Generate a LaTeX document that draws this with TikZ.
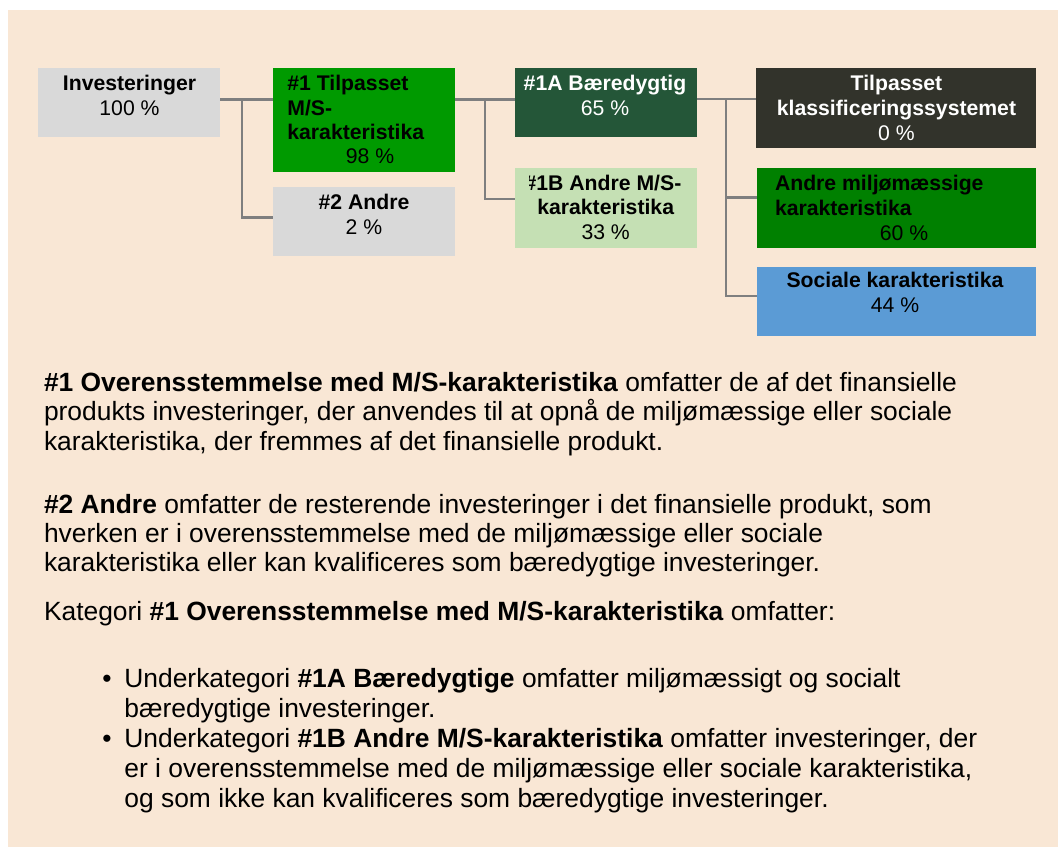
\documentclass[tikz,border=0pt]{standalone}
\usepackage{fontspec}
\setmainfont{Liberation Sans}
\definecolor{bgbeige}{HTML}{F9E7D5}
\definecolor{boxgray}{HTML}{D9D9D9}
\definecolor{greenA}{HTML}{009A00}
\definecolor{darkgreen}{HTML}{245638}
\definecolor{lightgreen}{HTML}{C5E0B4}
\definecolor{darkbox}{HTML}{32332B}
\definecolor{midgreen}{HTML}{008000}
\definecolor{socblue}{HTML}{5B9BD5}
\definecolor{linegray}{HTML}{7F7F7F}
\tikzset{
  box/.style={rectangle, inner sep=0pt, outer sep=0pt, anchor=north west},
  bt/.style={inner sep=0pt, outer sep=0pt, anchor=base, font=\fontsize{21.2}{25}\selectfont},
  btl/.style={bt, anchor=base west},
  tx/.style={inner sep=0pt, outer sep=0pt, anchor=base west, font=\fontsize{26.4}{29}\selectfont},
  bul/.style={inner sep=0pt, outer sep=0pt, anchor=base, font=\fontsize{26.4}{29}\selectfont},
  conn/.style={draw=linegray, line width=2.6pt}
}
\begin{document}
\begin{tikzpicture}[x=1pt,y=-1pt]
\useasboundingbox (0,0) rectangle (1058,847);
\fill[bgbeige] (8,10) rectangle (1058,847);

% boxes
\node[box, fill=boxgray,    minimum width=181.9pt, minimum height=68.4pt] (inv) at (38.2,68.3) {};
\node[box, fill=greenA,     minimum width=181.5pt, minimum height=103.4pt] (t1) at (273.2,68.3) {};
\node[box, fill=boxgray,    minimum width=181.5pt, minimum height=69pt]   (an) at (273.2,186.7) {};
\node[box, fill=darkgreen,  minimum width=181.8pt, minimum height=68.4pt] (a1) at (515,68.3) {};
\node[box, fill=lightgreen, minimum width=181.8pt, minimum height=79.4pt] (b1) at (515,168.3) {};
\node[box, fill=darkbox,    minimum width=280pt,   minimum height=79.4pt] (tk) at (756,68.3) {};
\node[box, fill=midgreen,   minimum width=279pt,   minimum height=79.4pt] (am) at (757,168.3) {};
\node[box, fill=socblue,    minimum width=279pt,   minimum height=68.4pt] (so) at (757,267.3) {};

% connectors
\coordinate (j1) at (242,99.3);
\coordinate (j2) at (485,99.3);
\coordinate (j3) at (726,99);
\draw[conn] (inv.east |- j1) -- (t1.west |- j1);
\draw[conn] (j1) |- (an.west |- 0,217.3);
\draw[conn] (t1.east |- j2) -- (a1.west |- j2);
\draw[conn] (j2) |- (b1.west |- 0,199);
\draw[conn] (a1.east |- j3) -- (tk.west |- j3);
\draw[conn] (j3) |- (am.west |- 0,197.3);
\draw[conn] (j3) |- (so.west |- 0,296);

% box texts
\node[bt] (inv-1) at (129.5,90) {\bfseries Investeringer};
\node[bt] (inv-2) at (129.5,115) {100 \%};

\node[btl] (t1-1) at (287.4,90) {\bfseries \#1 Tilpasset};
\node[btl] (t1-2) at (287.4,115) {\bfseries M/S-};
\node[btl] (t1-3) at (287.4,139) {\bfseries karakteristika};
\node[bt]  (t1-4) at (370,163) {98 \%};

\node[bt] (an-1) at (364,209) {\bfseries \#2 Andre};
\node[bt] (an-2) at (364,234) {2 \%};

\node[bt, text=white] (a1-1) at (605,90) {\bfseries \#1A Bæredygtig};
\node[bt, text=white] (a1-2) at (605,115) {65 \%};

\begin{scope}
\clip (529,150) rectangle (697,260);
\node[bt] (b1-1) at (603,190) {\bfseries \#1B Andre M/S-};
\end{scope}
\node[bt] (b1-2) at (605.7,214.3) {\bfseries karakteristika};
\node[bt] (b1-3) at (605.7,239.3) {33 \%};

\node[bt, text=white] (tk-1) at (896.5,90) {\bfseries Tilpasset};
\node[bt, text=white] (tk-2) at (896.5,115) {\bfseries klassificeringssystemet};
\node[bt, text=white] (tk-3) at (896.5,140) {0 \%};

\node[btl] (am-1) at (775,190) {\bfseries Andre miljømæssige};
\node[btl] (am-2) at (775,215) {\bfseries karakteristika};
\node[bt]  (am-3) at (904,240) {60 \%};

\node[bt] (so-1) at (895,287.7) {\bfseries Sociale karakteristika};
\node[bt] (so-2) at (895,312.7) {44 \%};

% body text
\node[tx] (p1-1) at (44,391.7) {\textbf{\#1 Overensstemmelse med M/S-karakteristika} omfatter de af det finansielle};
\node[tx] (p1-2) at (44,420.8) {produkts investeringer, der anvendes til at opnå de miljømæssige eller sociale};
\node[tx] (p1-3) at (44,450) {karakteristika, der fremmes af det finansielle produkt.};

\node[tx] (p2-1) at (44,513.5) {\textbf{\#2 Andre} omfatter de resterende investeringer i det finansielle produkt, som};
\node[tx] (p2-2) at (44,542.5) {hverken er i overensstemmelse med de miljømæssige eller sociale};
\node[tx] (p2-3) at (44,571.5) {karakteristika eller kan kvalificeres som bæredygtige investeringer.};

\node[tx] (p3-1) at (44,620.5) {Kategori \textbf{\#1 Overensstemmelse med M/S-karakteristika} omfatter:};

\node[bul] (u1-b) at (107,687) {•};
\node[tx] (u1-1) at (124.4,687) {Underkategori \textbf{\#1A Bæredygtige} omfatter miljømæssigt og socialt};
\node[tx] (u1-2) at (124.4,717) {bæredygtige investeringer.};
\node[bul] (u2-b) at (107,747) {•};
\node[tx] (u2-1) at (124.4,747) {Underkategori \textbf{\#1B Andre M/S-karakteristika} omfatter investeringer, der};
\node[tx] (u2-2) at (124.4,777) {er i overensstemmelse med de miljømæssige eller sociale karakteristika,};
\node[tx] (u2-3) at (124.4,807) {og som ikke kan kvalificeres som bæredygtige investeringer.};
\end{tikzpicture}
\end{document}
